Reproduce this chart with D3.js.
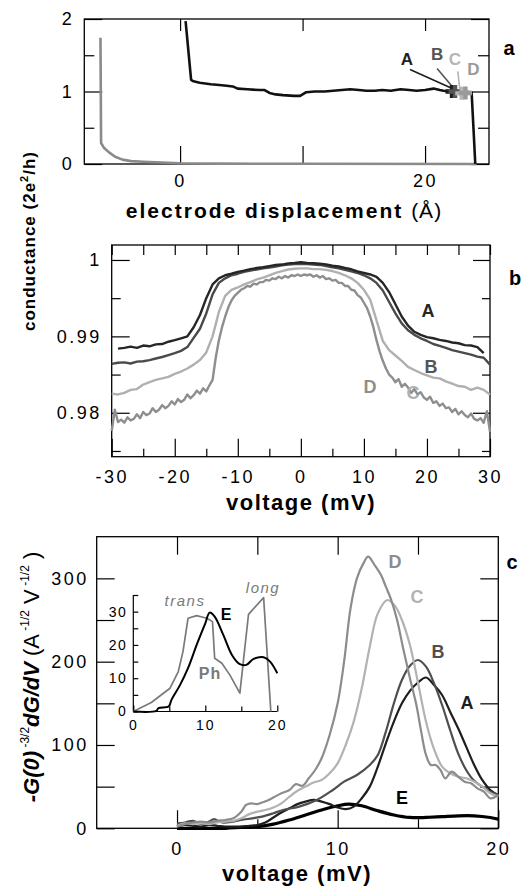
<!DOCTYPE html>
<html><head><meta charset="utf-8">
<script src="https://cdn.jsdelivr.net/npm/d3@7"></script>
<style>
html,body{margin:0;padding:0;background:#fff;}
svg{display:block;}
</style></head>
<body>
<svg id="chart" width="522" height="889"></svg>
<script>
// ---------------- DATA ----------------
// Panel a: conductance vs electrode displacement
const aBlackX = [0.45, 0.9, 1.1, 1.6, 2.5, 3.2, 3.8, 4.3, 4.7, 5.5, 6.5, 6.9, 7.3, 7.8, 8.4, 9.3, 9.8, 10.0, 10.3, 11.0, 11.8, 12.5, 13.2, 13.9, 14.6, 15.2, 15.9, 16.5, 17.2, 18.0, 18.7, 19.3, 20.0, 20.7, 21.2, 21.5, 22.2, 23.0, 23.8, 23.95, 24.1];
const aBlackY = [1.97, 1.16, 1.14, 1.12, 1.10, 1.09, 1.08, 1.07, 1.04, 1.03, 1.02, 1.02, 0.98, 0.96, 0.95, 0.94, 0.94, 0.96, 0.99, 1.00, 1.00, 1.01, 1.02, 1.03, 1.02, 1.01, 1.01, 1.02, 1.01, 1.03, 1.02, 1.01, 1.02, 1.04, 1.02, 1.01, 1.00, 1.00, 0.99, 0.5, 0.0];
const aGrayX = [-6.5, -6.45, -6.2, -5.8, -5.3, -4.7, -4.0, -3.0, -1.5, 0, 3, 10, 24.2];
const aGrayY = [1.74, 0.29, 0.22, 0.16, 0.10, 0.06, 0.04, 0.03, 0.02, 0.01, 0.005, 0.003, 0.0];
const aMarkNames = ["A", "B", "C", "D"];
const aMarkX = [22.2, 22.45, 23.0, 23.3];
const aMarkY = [1.0, 1.0, 0.975, 0.98];
const aXTicks = [0, 10, 20];
const aXLabels = ["0", "", "20"];
const aYTicks = [0, 1, 2];
const aYMinor = [0.5, 1.5];

// Panel b: conductance vs voltage
const bVoltsA = d3.range(-29, 30, 1);
const bA = [0.98840, 0.98850, 0.98865, 0.98850, 0.98880, 0.98870, 0.98895, 0.98900, 0.98930, 0.98950, 0.98975, 0.99000, 0.99120, 0.99280, 0.99500, 0.99680, 0.99760, 0.99800, 0.99820, 0.99845, 0.99860, 0.99880, 0.99895, 0.99905, 0.99920, 0.99935, 0.99940, 0.99955, 0.99960, 0.99970,
            0.99960, 0.99958, 0.99950, 0.99942, 0.99925, 0.99915, 0.99895, 0.99878, 0.99850, 0.99830, 0.99810, 0.99780, 0.99700, 0.99580, 0.99420, 0.99260, 0.99140, 0.99060, 0.99020, 0.98990, 0.98975, 0.98955, 0.98940, 0.98920, 0.98910, 0.98885, 0.98880, 0.98860, 0.98780];
const bVolts = d3.range(-30, 31, 1);
const bB = [0.98640, 0.98655, 0.98660, 0.98645, 0.98670, 0.98675, 0.98690, 0.98710, 0.98730, 0.98755, 0.98780, 0.98810, 0.98860, 0.98980, 0.99100, 0.99300, 0.99550, 0.99700, 0.99760, 0.99800, 0.99820, 0.99845, 0.99860, 0.99875, 0.99890, 0.99900, 0.99915, 0.99930, 0.99940, 0.99945, 0.99950,
            0.99945, 0.99940, 0.99935, 0.99920, 0.99905, 0.99890, 0.99870, 0.99850, 0.99830, 0.99800, 0.99760, 0.99700, 0.99600, 0.99450, 0.99300, 0.99170, 0.99080, 0.99020, 0.98975, 0.98940, 0.98900, 0.98875, 0.98850, 0.98820, 0.98800, 0.98780, 0.98760, 0.98735, 0.98720, 0.98630];
const bC = [0.98250, 0.98240, 0.98260, 0.98300, 0.98310, 0.98370, 0.98400, 0.98430, 0.98450, 0.98470, 0.98510, 0.98540, 0.98580, 0.98630, 0.98690, 0.98790, 0.99000, 0.99320, 0.99530, 0.99610, 0.99640, 0.99680, 0.99710, 0.99745, 0.99770, 0.99800, 0.99830, 0.99855, 0.99875, 0.99885, 0.99890,
            0.99890, 0.99880, 0.99880, 0.99870, 0.99855, 0.99830, 0.99800, 0.99760, 0.99700, 0.99610, 0.99480, 0.99210, 0.98940, 0.98820, 0.98750, 0.98680, 0.98600, 0.98560, 0.98520, 0.98490, 0.98460, 0.98450, 0.98410, 0.98380, 0.98350, 0.98340, 0.98300, 0.98330, 0.98300, 0.98240];
const bVoltsD = d3.range(-30, 30.5, 0.5);
const bD = [0.9776, 0.9804, 0.9788, 0.9791, 0.9787, 0.9794, 0.9790, 0.9792, 0.9798, 0.9793, 0.9801, 0.9797, 0.9799, 0.9806, 0.9801, 0.9804, 0.9810, 0.9806, 0.9809, 0.9815,
            0.9811, 0.9818, 0.9814, 0.9817, 0.9824, 0.9819, 0.9823, 0.9829, 0.9825, 0.9832, 0.9828, 0.9836, 0.9843, 0.9872, 0.9895, 0.9912, 0.9926, 0.9938, 0.9947, 0.9953,
            0.9957, 0.9961, 0.9963, 0.9966, 0.9965, 0.9969, 0.9968, 0.9971, 0.9971, 0.9974, 0.9973, 0.9976, 0.9975, 0.9978, 0.9976, 0.9979, 0.9977, 0.9980, 0.9979, 0.9981,
            0.9979, 0.9981, 0.9980, 0.9981, 0.9978, 0.9980, 0.9977, 0.9979, 0.9975, 0.9976, 0.9973, 0.9974, 0.9970, 0.9970, 0.9966, 0.9966, 0.9961, 0.9960, 0.9954, 0.9951,
            0.9944, 0.9937, 0.9926, 0.9912, 0.9895, 0.9880, 0.9868, 0.9858, 0.9850, 0.9846, 0.9840, 0.9844, 0.9834, 0.9838, 0.9833, 0.9826, 0.9831, 0.9824, 0.9827, 0.9820,
            0.9817, 0.9821, 0.9813, 0.9815, 0.9809, 0.9812, 0.9806, 0.9807, 0.9801, 0.9805, 0.9798, 0.9802, 0.9797, 0.9794, 0.9799, 0.9792, 0.9790, 0.9793, 0.9787, 0.9802, 0.9775];
const bXTicks = [-30, -20, -10, 0, 10, 20, 30];
const bXMinor = [-25, -15, -5, 5, 15, 25];
const bYTicks = [0.98, 0.99, 1.0];
const bYLabels = ["0.98", "0.99", "1"];
const bYMinor = [0.975, 0.985, 0.995];

// Panel c: -G(0)^-3/2 dG/dV vs voltage
const cVA = [0, 0.5, 1.0, 1.5, 2.0, 2.5, 3.0, 3.5, 4.0, 4.5, 5.0, 5.5, 6.0, 6.5, 7.0, 7.5, 8.0, 8.5, 9.0, 9.5, 10.0, 10.5, 11.0, 11.5, 12.0, 12.5, 13.0, 13.5, 14.0, 14.5, 15.0, 15.5, 16.0, 16.5, 17.0, 17.5, 18.0, 18.5, 19.0, 19.5, 20.0];
const cA  = [2, 4, 3, 2, 4, 3, 2, 2, 2, 3, 4, 7, 13, 19, 24, 29, 32, 34, 32, 29, 25, 23, 26, 36, 50, 74, 102, 128, 150, 165, 175, 181, 172, 160, 140, 120, 98, 76, 58, 46, 40];
const cVB = [0, 0.5, 1.0, 1.5, 2.0, 2.3, 2.8, 3.5, 4.0, 4.7, 5.3, 6.0, 6.6, 7.6, 8.7, 9.7, 10.4, 11.2, 12.0, 12.5, 13.0, 13.5, 14.0, 14.5, 15.0, 15.5, 16.0, 16.5, 17.0, 17.5, 18.0, 18.5, 19.0, 19.5, 20.0];
const cB  = [6, 7, 9, 5, 8, 11, 7, 8, 10, 12, 14, 18, 22, 26, 34, 46, 56, 64, 76, 88, 116, 150, 178, 195, 202, 194, 174, 148, 118, 90, 70, 57, 50, 44, 40];
const cVC = [0, 0.5, 1.0, 1.5, 2.0, 2.5, 3.0, 3.5, 4.0, 4.5, 5.0, 5.5, 6.0, 6.5, 7.0, 7.5, 8.0, 8.5, 9.0, 9.5, 10.0, 10.5, 11.0, 11.5, 12.0, 12.5, 13.1, 13.6, 14.0, 14.5, 15.0, 15.5, 16.0, 16.5, 17.0, 17.5, 18.0, 18.5, 19.0, 19.5, 20.0];
const cC  = [3, 6, 5, 6, 5, 7, 8, 9, 12, 17, 20, 22, 25, 30, 38, 45, 50, 55, 58, 66, 78, 100, 128, 168, 218, 258, 274, 266, 250, 220, 175, 128, 95, 74, 66, 62, 60, 56, 50, 42, 38];
const cVD = [0, 0.5, 1.0, 1.5, 2.0, 2.5, 3.0, 3.5, 4.0, 4.3, 4.6, 5.0, 5.3, 5.6, 6.0, 6.5, 7.0, 7.4, 7.8, 8.2, 8.6, 9.0, 9.5, 10.0, 10.4, 10.8, 11.2, 11.6, 11.9, 12.3, 12.7, 13.0, 13.3, 13.7, 14.1, 14.5, 14.9, 15.2, 15.5, 15.8, 16.1, 16.4, 16.7, 17.1, 17.5, 17.9, 18.3, 18.7, 19.1, 19.5, 20.0];
const cD  = [2, 5, 7, 8, 7, 9, 10, 12, 20, 28, 30, 29, 31, 33, 37, 42, 46, 53, 51, 60, 70, 84, 112, 150, 200, 264, 300, 318, 326, 316, 304, 290, 276, 250, 214, 180, 148, 116, 88, 76, 76, 70, 60, 68, 62, 56, 54, 48, 44, 36, 40];
const cVE = [0, 1, 2, 3, 4, 5, 6, 7, 8, 9, 10, 10.7, 11.5, 12.5, 13.5, 14.5, 15.5, 16.5, 17.5, 18.5, 19.5, 20];
const cE  = [0, 0, 0, 0, 1, 2, 5, 10, 16, 22, 27, 29, 27, 21, 16, 13, 13, 14, 15, 15, 13, 11];
const cXTicks = [0, 10, 20];
const cXMinor = [5, 15];
const cYTicks = [0, 100, 200, 300];
const cYMinor = [50, 150, 250];

// Inset
const inPhV = [0, 2.5, 5.1, 6.25, 6.9, 7.6, 8.8, 10.2, 11.0, 11.3, 12.3, 13.4, 14.8, 16.0, 18.1, 19.1];
const inPh  = [0, 2.7, 7, 12, 18, 28, 28.8, 28, 27, 16, 14.5, 11, 5.5, 29.2, 34.2, 0];
const inEV = [0, 3.2, 3.5, 4.9, 5.3, 6.5, 7.6, 8.8, 10.0, 10.6, 11.3, 12.5, 13.7, 14.8, 15.7, 16.7, 18.1, 19.0, 20.0];
const inE  = [0, 0.2, 1, 1.5, 3.5, 8, 13, 20, 26.5, 29.7, 28.5, 23, 17, 14.2, 14, 15.8, 16.3, 15, 11.5];
const inXTicks = [0, 10, 20];
const inXMinor = [5, 15];
const inYTicks = [0, 10, 20, 30];
const inYMinor = [5, 15, 25, 35];

// ---------------- STYLE ----------------
const FONT = "'Liberation Sans', Arial, Helvetica, sans-serif";
const col = {A: "#1e1e1e", B: "#4f4f4f", C: "#b2b2b2", D: "#8c8c8c", E: "#000"};
const bCol = {A: "#262626", B: "#4a4a4a", C: "#b0b0b0", D: "#8e8e8e"};

const svg = d3.select("#chart");
svg.append("rect").attr("width", 522).attr("height", 889).attr("fill", "#fff");

function zip(xs, ys) { return xs.map((x, i) => [x, ys[i]]); }

function axisSet(g, x, y, spec) {
  const [x0, x1] = x.range(), [y0, y1] = y.range(); // y0 bottom, y1 top
  spec.forEach(s => {
    let ax;
    if (s.side === "bottom") ax = d3.axisBottom(x);
    if (s.side === "top") ax = d3.axisTop(x);
    if (s.side === "left") ax = d3.axisLeft(y);
    if (s.side === "right") ax = d3.axisRight(y);
    ax.tickValues(s.values).tickSize(-s.len).tickSizeOuter(0).tickPadding(s.pad || 8)
      .tickFormat(s.labels ? ((d, i) => s.labels[i]) : () => "");
    const tr = s.side === "bottom" ? `translate(0,${y0})` : s.side === "top" ? `translate(0,${y1})`
             : s.side === "left" ? `translate(${x0},0)` : `translate(${x1},0)`;
    const a = g.append("g").attr("transform", tr).call(ax);
    a.select(".domain").remove();
    a.selectAll("line").attr("stroke", "#000").attr("stroke-width", 1.2);
    a.selectAll("text").attr("fill", "#000").style("font-family", FONT)
      .style("font-size", (s.fs || 18) + "px").style("letter-spacing", (s.ls != null ? s.ls : 2.5) + "px");
  });
}

function frame(g, x, y) {
  const [x0, x1] = x.range(), [y0, y1] = y.range();
  g.append("rect").attr("x", x0).attr("y", y1).attr("width", x1 - x0).attr("height", y0 - y1)
    .attr("fill", "none").attr("stroke", "#000").attr("stroke-width", 1.3);
}

function label(g, x, y, txt, color, fs, opts = {}) {
  return g.append("text").attr("x", x).attr("y", y).attr("text-anchor", opts.anchor || "middle")
    .attr("dominant-baseline", "central")
    .style("font-family", FONT).style("font-size", fs + "px")
    .style("font-weight", opts.weight || "bold").style("font-style", opts.italic ? "italic" : "normal")
    .style("letter-spacing", (opts.ls || 0) + "px")
    .attr("fill", color).text(txt);
}

// ---------------- PANEL A ----------------
{
  const g = svg.append("g");
  const x = d3.scaleLinear().domain([-7.82, 25.22]).range([84.3, 489]);
  const y = d3.scaleLinear().domain([0, 2]).range([164, 19]);
  const line = d3.line().x(d => x(d[0])).y(d => y(d[1]));
  axisSet(g, x, y, [
    {side: "bottom", values: aXTicks, len: 18, labels: aXLabels, pad: 10},
    {side: "top", values: aXTicks, len: 12},
    {side: "left", values: aYTicks, len: 18, labels: aYTicks.map(String), pad: 10},
    {side: "left", values: aYMinor, len: 10},
    {side: "right", values: aYTicks, len: 18},
    {side: "right", values: aYMinor, len: 11}
  ]);
  frame(g, x, y);
  g.append("path").datum(zip(aGrayX, aGrayY)).attr("d", line).attr("fill", "none")
    .attr("stroke", "#8a8a8a").attr("stroke-width", 2.6).attr("stroke-linejoin", "round");
  g.append("path").datum(zip(aBlackX, aBlackY)).attr("d", line).attr("fill", "none")
    .attr("stroke", "#111").attr("stroke-width", 2.6).attr("stroke-linejoin", "round");
  // leader lines + labels
  const labOff = {A: [-45, -32], B: [-18, -37], C: [-7, -34], D: [8, -23]};
  const leadFrom = {A: [-42, -22], B: [-18, -23], C: [-4, -22], D: null};
  const mcol = {A: "#1e1e1e", B: "#555", C: "#b5b5b5", D: "#9a9a9a"};
  aMarkNames.forEach((n, i) => {
    const px = x(aMarkX[i]), py = y(aMarkY[i]);
    if (leadFrom[n]) {
      g.append("line").attr("x1", px + leadFrom[n][0]).attr("y1", py + leadFrom[n][1])
        .attr("x2", px - 2).attr("y2", py - 4).attr("stroke", n === "A" ? "#1e1e1e" : mcol[n]).attr("stroke-width", 1.6);
    }
  });
  aMarkNames.forEach((n, i) => {
    const px = x(aMarkX[i]), py = y(aMarkY[i]);
    g.append("path").attr("d", d3.symbol(d3.symbolCross, 95)()).attr("transform", `translate(${px},${py})`)
      .attr("fill", mcol[n]);
    label(g, px + labOff[n][0], py + labOff[n][1], n, mcol[n], 17);
  });
  label(g, 509, 48, "a", "#000", 20);
  // x label
  const t = g.append("text").attr("x", 284).attr("y", 218).attr("text-anchor", "middle")
    .style("font-family", FONT).style("font-size", "21px").attr("fill", "#000");
  t.append("tspan").style("font-weight", "bold").style("letter-spacing", "2px").text("electrode displacement ");
  t.append("tspan").style("font-weight", "normal").style("letter-spacing", "1px").text("(Å)");
}

// shared y label for a & b
{
  const t = svg.append("text").attr("transform", "translate(35,241) rotate(-90)").attr("text-anchor", "middle")
    .style("font-family", FONT).style("font-size", "17px").style("font-weight", "bold")
    .style("letter-spacing", "1px").attr("fill", "#000");
  t.append("tspan").text("conductance (2e");
  t.append("tspan").attr("dy", -7).style("font-size", "11px").text("2");
  t.append("tspan").attr("dy", 7).text("/h)");
}

// ---------------- PANEL B ----------------
{
  const g = svg.append("g");
  const x = d3.scaleLinear().domain([-30, 30]).range([111.7, 490]);
  const y = d3.scaleLinear().domain([0.97425, 1.00196]).range([456.7, 245]);
  const line = d3.line().x(d => x(d[0])).y(d => y(d[1]));
  axisSet(g, x, y, [
    {side: "bottom", values: bXTicks, len: 18, labels: bXTicks.map(String), pad: 14},
    {side: "bottom", values: bXMinor, len: 8},
    {side: "top", values: bXTicks.concat(bXMinor), len: 10},
    {side: "left", values: bYTicks, len: 18, labels: bYLabels, pad: 10},
    {side: "left", values: bYMinor, len: 9},
    {side: "right", values: bYTicks, len: 17},
    {side: "right", values: bYMinor, len: 8}
  ]);
  frame(g, x, y);
  const series = [["D", bVoltsD, bD], ["C", bVolts, bC], ["B", bVolts, bB], ["A", bVoltsA, bA]];
  series.forEach(([n, xs, ys]) => {
    g.append("path").datum(zip(xs, ys)).attr("d", line).attr("fill", "none")
      .attr("stroke", bCol[n]).attr("stroke-width", 2.4).attr("stroke-linejoin", "round");
  });
  label(g, 428, 311, "A", bCol.A, 18);
  label(g, 431, 367, "B", "#555", 18);
  label(g, 413, 393, "C", bCol.C, 18);
  label(g, 370, 387, "D", bCol.D, 18);
  label(g, 515, 278, "b", "#000", 20);
  g.append("text").attr("x", 301).attr("y", 510).attr("text-anchor", "middle")
    .style("font-family", FONT).style("font-size", "22px").style("font-weight", "bold")
    .style("letter-spacing", "1.5px").attr("fill", "#000").text("voltage (mV)");
}

// ---------------- PANEL C ----------------
{
  const g = svg.append("g");
  const x = d3.scaleLinear().domain([-5, 20]).range([96.7, 498.3]);
  const y = d3.scaleLinear().domain([0, 350]).range([828.3, 536.7]);
  const line = d3.line().x(d => x(d[0])).y(d => y(d[1])).curve(d3.curveCatmullRom.alpha(0.5));
  axisSet(g, x, y, [
    {side: "bottom", values: cXTicks, len: 18, labels: cXTicks.map(String), pad: 14},
    {side: "bottom", values: cXMinor, len: 9},
    {side: "top", values: [0, 5, 10, 15], len: 18},
    {side: "left", values: cYTicks, len: 18, labels: cYTicks.map(String), pad: 8},
    {side: "left", values: cYMinor, len: 18},
    {side: "right", values: cYTicks.concat(cYMinor), len: 18}
  ]);
  frame(g, x, y);
  const series = [["E", cVE, cE, 3.2], ["A", cVA, cA, 2.2], ["B", cVB, cB, 2.2], ["C", cVC, cC, 2.2], ["D", cVD, cD, 2.2]];
  series.forEach(([n, xs, ys, w]) => {
    g.append("path").datum(zip(xs, ys)).attr("d", line).attr("fill", "none")
      .attr("stroke", col[n]).attr("stroke-width", w).attr("stroke-linejoin", "round");
  });
  label(g, 395, 562, "D", col.D, 18);
  label(g, 417, 597, "C", col.C, 18);
  label(g, 438, 652, "B", col.B, 18);
  label(g, 467, 703, "A", col.A, 18);
  label(g, 402, 798, "E", "#000", 18);
  label(g, 512, 562, "c", "#000", 20);
  g.append("text").attr("x", 297).attr("y", 881).attr("text-anchor", "middle")
    .style("font-family", FONT).style("font-size", "22px").style("font-weight", "bold")
    .style("letter-spacing", "1.5px").attr("fill", "#000").text("voltage (mV)");

  // y label
  const t = g.append("text").attr("transform", "translate(39,677) rotate(-90)").attr("text-anchor", "middle")
    .style("font-family", FONT).style("font-size", "22px").attr("fill", "#000");
  t.append("tspan").style("font-weight", "bold").style("font-style", "italic").text("-G(0)");
  t.append("tspan").attr("dy", -10).style("font-size", "12px").text(" -3/2");
  t.append("tspan").attr("dy", 10).style("font-weight", "bold").style("font-style", "italic").text("dG/dV");
  t.append("tspan").text(" (A");
  t.append("tspan").attr("dy", -10).style("font-size", "12px").text(" -1/2");
  t.append("tspan").attr("dy", 10).text(" V");
  t.append("tspan").attr("dy", -10).style("font-size", "12px").text(" -1/2");
  t.append("tspan").attr("dy", 10).text(" )");

  // inset
  const ix = d3.scaleLinear().domain([0, 20]).range([133.3, 277.3]);
  const iy = d3.scaleLinear().domain([0, 35]).range([711.5, 595]);
  const gi = svg.append("g");
  const il = d3.line().x(d => ix(d[0])).y(d => iy(d[1]));
  const ils = d3.line().x(d => ix(d[0])).y(d => iy(d[1])).curve(d3.curveCatmullRom.alpha(0.5));
  gi.append("line").attr("x1", ix(0)).attr("x2", ix(0)).attr("y1", iy(0)).attr("y2", iy(35)).attr("stroke", "#000").attr("stroke-width", 1.2);
  gi.append("line").attr("x1", ix(0)).attr("x2", ix(20)).attr("y1", iy(0)).attr("y2", iy(0)).attr("stroke", "#000").attr("stroke-width", 1.2);
  axisSet(gi, ix, iy, [
    {side: "left", values: inYTicks, len: 5, labels: inYTicks.map(String), pad: 6, fs: 14, ls: 1.5},
    {side: "left", values: inYMinor, len: 5},
    {side: "bottom", values: inXTicks, len: 6, labels: inXTicks.map(String), pad: 9, fs: 14, ls: 2},
    {side: "bottom", values: inXMinor, len: 5}
  ]);
  gi.append("path").datum(zip(inPhV, inPh)).attr("d", il).attr("fill", "none")
    .attr("stroke", "#7a7a7a").attr("stroke-width", 1.7).attr("stroke-linejoin", "round");
  gi.append("path").datum(zip(inEV, inE)).attr("d", ils).attr("fill", "none")
    .attr("stroke", "#000").attr("stroke-width", 2).attr("stroke-linejoin", "round");
  label(gi, 185, 600, "trans", "#7a7a7a", 15, {weight: "normal", italic: true, ls: 1.5});
  label(gi, 263, 587, "long", "#7a7a7a", 15, {weight: "normal", italic: true, ls: 1.5});
  label(gi, 226, 614, "E", "#000", 16);
  label(gi, 210, 673, "Ph", "#7a7a7a", 16, {ls: 1});
}
</script>
</body></html>
